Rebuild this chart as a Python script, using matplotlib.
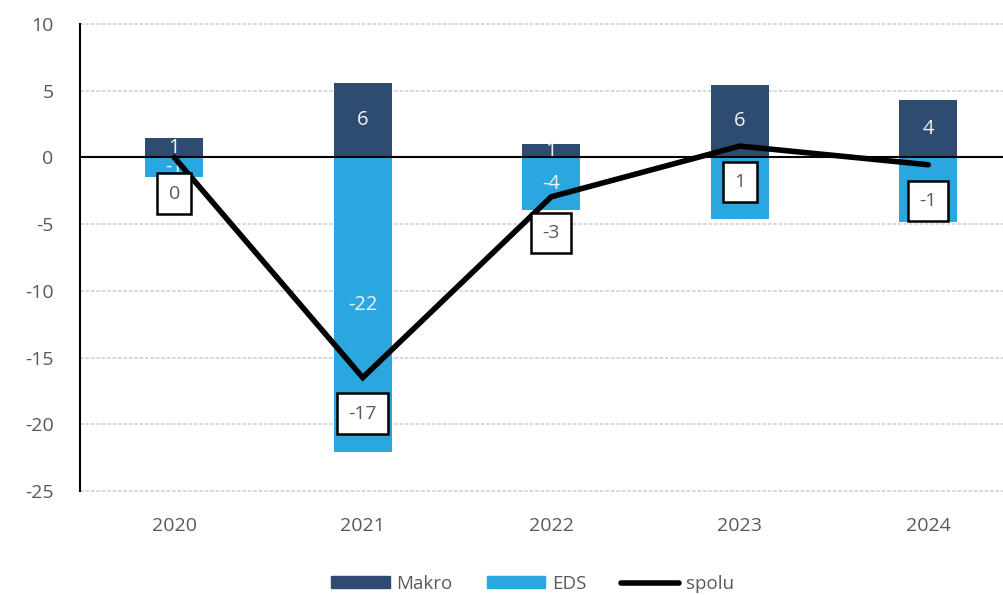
import matplotlib
matplotlib.use("Agg")
import matplotlib.pyplot as plt
from matplotlib.patches import Patch
from matplotlib.lines import Line2D
import numpy as np

years = ["2020", "2021", "2022", "2023", "2024"]
makro = [1.45, 5.6, 1.0, 5.45, 4.3]
eds = [-1.47, -22.1, -3.95, -4.6, -4.85]
spolu = [0.0, -16.5, -2.95, 0.85, -0.55]
makro_lbl = ["1", "6", "1", "6", "4"]
eds_lbl = ["-1", "-22", "-4", "", ""]   # 2023/2024 labels hidden behind the totals' boxes
spolu_lbl = ["0", "-17", "-3", "1", "-1"]
yticks = [10, 5, 0, -5, -10, -15, -20, -25]

plt.rcParams['font.family'] = ['Open Sans', 'DejaVu Sans']

c_makro = "#2e4b72"
c_eds = "#2aa7df"
tick_c = "#595959"

fig = plt.figure(figsize=(10.04, 5.95), dpi=100)
ax = fig.add_axes([80/1004, 1-491/595, 942.5/1004, 467/595])
x = np.arange(len(years))
w = 0.31

ax.bar(x, makro, w, color=c_makro, zorder=2)
ax.bar(x, eds, w, color=c_eds, zorder=2)

for xi, v, t in zip(x, makro, makro_lbl):
    ax.text(xi, v/2, t, ha='center', va='center', color='#f2f2f2', fontsize=14.5, zorder=3)
for xi, v, t in zip(x, eds, eds_lbl):
    if t:
        ax.text(xi, v/2, t, ha='center', va='center', color='#f2f2f2', fontsize=14.5, zorder=3)

ax.axhline(0, color='black', lw=1.5, zorder=2.5)
ax.plot(x, spolu, color='black', lw=4, solid_capstyle='round', solid_joinstyle='miter', zorder=4)

for xi, v, t in zip(x, spolu, spolu_lbl):
    ax.annotate(t, (xi, v), xytext=(0, -26), textcoords='offset points', ha='center', va='center',
                fontsize=14, color=tick_c, zorder=5,
                bbox=dict(boxstyle='square,pad=0.58', fc='white', ec='black', lw=1.8))

ax.set_xlim(-0.5, 4.5)
ax.set_ylim(-25, 10)
ax.set_yticks(yticks)
ax.set_yticklabels([str(v) for v in yticks])
ax.set_xticks(x)
ax.set_xticklabels(years)
ax.tick_params(axis='y', length=0, pad=19, labelsize=14, labelcolor=tick_c)
ax.tick_params(axis='x', length=0, pad=19, labelsize=14, labelcolor=tick_c)
for v in yticks:
    if v != 0:
        ax.axhline(v, color='#d4d4d4', lw=1.3, ls=(0, (2, 1)), zorder=1, clip_on=False)
for s in ['top', 'right', 'bottom']:
    ax.spines[s].set_visible(False)
ax.spines['left'].set_color('black')
ax.spines['left'].set_linewidth(1.5)
ax.spines['left'].set_zorder(3)

handles = [Patch(color=c_makro, label='Makro'), Patch(color=c_eds, label='EDS'),
           Line2D([], [], color='black', lw=4, solid_capstyle='round', label='spolu')]
leg = fig.legend(handles=handles, loc='lower left', bbox_to_anchor=(324/1004, -0.009), ncol=3, frameon=False,
                 fontsize=13.5, handlelength=3.1, handleheight=0.6, handletextpad=0.35, columnspacing=1.85,
                 borderaxespad=0.0)
for t in leg.get_texts():
    t.set_color(tick_c)

fig.savefig("out.png", dpi=100)
